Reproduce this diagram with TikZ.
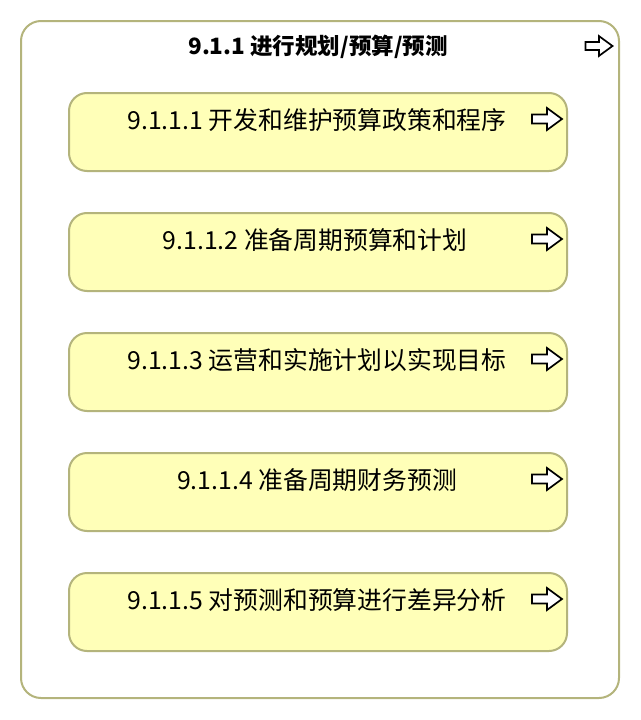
\documentclass[tikz,border=0pt]{standalone}
\usepackage{fontspec}
\setmainfont{Noto Sans CJK SC}
\begin{document}
\begin{tikzpicture}[x=1pt,y=-1pt,
  outerbox/.style={draw=olivec,line width=2pt,fill=white,rounded corners=20pt},
  procbox/.style={draw=olivec,line width=2pt,fill=boxfill,rounded corners=18pt,minimum width=498pt,minimum height=78pt,inner sep=0pt},
  lbl/.style={font=\fontsize{24.8}{28}\selectfont,anchor=center},
  ttl/.style={font=\bfseries\fontsize{22.5}{26}\selectfont,anchor=center},
  arrowicon/.pic={\draw[line width=1.7pt,fill=white,line join=miter] (-15,-4.5) -- (0,-4.5) -- (0,-11) -- (15,0) -- (0,11) -- (0,4.5) -- (-15,4.5) -- cycle;}]
\definecolor{olivec}{HTML}{B4B47C}
\definecolor{boxfill}{HTML}{FFFFB8}
\useasboundingbox (0,0) rectangle (640,720);
\node[outerbox,minimum width=598pt,minimum height=677pt,inner sep=0pt] (outer) at (320,359.5) {};
\node[ttl] (title) at (318,47) {9.1.1 进行规划/预算/预测};
\pic[scale=0.9] at (599,46) {arrowicon};
\node[procbox] (b1) at (318,132) {};
\node[procbox] (b2) at (318,252) {};
\node[procbox] (b3) at (318,372) {};
\node[procbox] (b4) at (318,492) {};
\node[procbox] (b5) at (318,612) {};
\node[lbl] (t1) at (317,120) {9.1.1.1 开发和维护预算政策和程序};
\node[lbl] (t2) at (315,240) {9.1.1.2 准备周期预算和计划};
\node[lbl] (t3) at (317,360) {9.1.1.3 运营和实施计划以实现目标};
\node[lbl] (t4) at (317,480) {9.1.1.4 准备周期财务预测};
\node[lbl] (t5) at (317,600) {9.1.1.5 对预测和预算进行差异分析};
\foreach \y in {119,239,359,479,599} \pic at (547,\y) {arrowicon};
\end{tikzpicture}
\end{document}
